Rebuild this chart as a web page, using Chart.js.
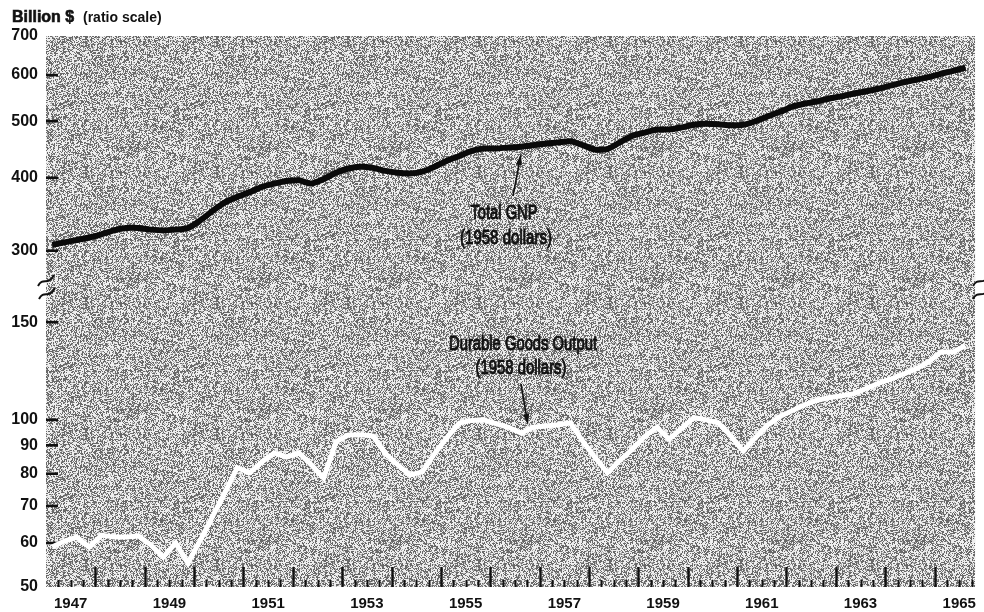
<!DOCTYPE html>
<html>
<head>
<meta charset="utf-8">
<script src="https://cdn.jsdelivr.net/npm/chart.js@4.4.1/dist/chart.umd.min.js"></script>
<style>
  html, body { margin: 0; padding: 0; background: #fff; }
  canvas { display: block; }
</style>
</head>
<body>
<canvas id="chart" width="984" height="612"></canvas>
<script>
// quarterly data, 1947 Q1 .. 1965 Q3 (billions of 1958 dollars)
const firstYear = 1947;
const gnp = [
  307, 310, 313, 316,   // 1947
  320, 325, 328, 328,   // 1948
  326, 325, 326, 328,   // 1949
  338, 351, 363, 371,   // 1950
  378, 386, 391, 395,   // 1951
  396, 391, 398, 408,   // 1952
  415, 418, 416, 411,   // 1953
  408, 407, 410, 418,   // 1954
  428, 436, 445, 449,   // 1955
  449, 451, 452, 455,   // 1956
  458, 460, 462, 455,   // 1957
  447, 448, 460, 472,   // 1958
  478, 484, 484, 488,   // 1959
  493, 495, 494, 492,   // 1960
  493, 500, 510, 519,   // 1961
  530, 536, 541, 547,   // 1962
  552, 558, 563, 569,   // 1963
  576, 583, 589, 595,   // 1964
  603, 610, 618         // 1965
];
const durables = [
  59, 60.5, 61.5, 59,       // 1947
  62, 61.5, 61.5, 61.8,     // 1948
  59.5, 56.6, 60, 55.2,     // 1949
  60.7, 67, 74, 82,         // 1950
  80.3, 84, 87.2, 85.7,     // 1951
  87.2, 83, 78.5, 91.3,     // 1952
  93.9, 94, 93.5, 87,       // 1953
  83, 79.6, 80.6, 87,       // 1954
  93, 98.7, 99.8, 100,      // 1955
  98.4, 97, 94.6, 97,       // 1956
  97.5, 98, 98.7, 91.5,     // 1957
  85.5, 80.3, 84.5, 88.5,   // 1958
  93.3, 97, 92.3, 96.5,     // 1959
  101, 100, 98.7, 93.5,     // 1960
  87.9, 93, 98, 101.5,      // 1961
  104, 106.5, 108.5, 109.7, // 1962
  110.5, 111.5, 114, 116.5, // 1963
  118.5, 121, 123.5, 127,   // 1964
  132.5, 132.5, 136         // 1965
];
const yearLabels = [1947, 1949, 1951, 1953, 1955, 1957, 1959, 1961, 1963, 1965];
const ticksHigh = [300, 400, 500, 600, 700];
const ticksLow = [50, 60, 70, 80, 90, 100, 150];

const asPoints = arr => arr.map((v, i) => ({ x: firstYear + (i + 0.5) / 4, y: v }));

// stipple texture for the plot area (deterministic hash, texture only)
function hash(x, y) {
  let n = Math.imul(x, 374761393) + Math.imul(y, 668265263);
  n = Math.imul(n ^ (n >>> 13), 1274126177);
  n = n ^ (n >>> 16);
  return (n >>> 0) / 4294967296;
}
const tex = document.createElement('canvas');
tex.width = 131; tex.height = 131;
(() => {
  const tctx = tex.getContext('2d');
  const img = tctx.createImageData(tex.width, tex.height);
  for (let y = 0; y < tex.height; y++) {
    for (let x = 0; x < tex.width; x++) {
      const p = hash(x + 7, y + 11);
      const g = p < 0.40 ? 105 : (p < 0.52 ? 172 : 238);
      const k = (y * tex.width + x) * 4;
      img.data[k] = img.data[k + 1] = img.data[k + 2] = g;
      img.data[k + 3] = 255;
    }
  }
  tctx.putImageData(img, 0, 0);
})();

// condensed label: squeeze a normal face to the wanted width
function narrowText(ctx, text, cx, cy, width) {
  ctx.save();
  ctx.font = '21px "Liberation Sans", Arial, sans-serif';
  const w = ctx.measureText(text).width;
  ctx.translate(cx, cy);
  ctx.scale(width / w, 1);
  ctx.textAlign = 'center';
  ctx.textBaseline = 'middle';
  ctx.lineWidth = 1;
  ctx.fillText(text, 0, 0);
  ctx.strokeText(text, 0, 0);
  ctx.restore();
}

function arrow(ctx, x1, y1, x2, y2) {
  const ang = Math.atan2(y2 - y1, x2 - x1);
  ctx.beginPath();
  ctx.moveTo(x1, y1);
  ctx.lineTo(x2 - 6 * Math.cos(ang), y2 - 6 * Math.sin(ang));
  ctx.lineWidth = 1.6;
  ctx.stroke();
  ctx.beginPath();
  ctx.moveTo(x2, y2);
  ctx.lineTo(x2 - 11 * Math.cos(ang) + 3 * Math.sin(ang), y2 - 11 * Math.sin(ang) - 3 * Math.cos(ang));
  ctx.lineTo(x2 - 11 * Math.cos(ang) - 3 * Math.sin(ang), y2 - 11 * Math.sin(ang) + 3 * Math.cos(ang));
  ctx.closePath();
  ctx.fill();
}

function squiggle(ctx, x, y) {
  ctx.beginPath();
  ctx.moveTo(x, y + 5);
  ctx.bezierCurveTo(x + 5, y - 5, x + 10, y + 6, x + 16, y - 6);
  ctx.stroke();
}

const decor = {
  id: 'decor',
  beforeDraw(chart) {
    const { ctx, chartArea: a } = chart;
    ctx.save();
    ctx.fillStyle = '#fff';
    ctx.fillRect(0, 0, chart.width, chart.height);
    ctx.fillStyle = ctx.createPattern(tex, 'repeat');
    ctx.fillRect(a.left, a.top, a.right - a.left, a.bottom - a.top);
    ctx.restore();
  },
  beforeDatasetsDraw(chart) {
    const { ctx, chartArea: a, scales } = chart;
    ctx.save();
    ctx.strokeStyle = '#111';
    // quarter ticks along the bottom
    for (let q = 1; q < 76; q++) {
      const v = firstYear + q / 4;
      if (v > scales.x.max) break;
      const x = Math.round(scales.x.getPixelForValue(v)) + 0.5;
      const big = q % 4 === 0;
      ctx.lineWidth = big ? 2.4 : 2;
      ctx.beginPath();
      ctx.moveTo(x, a.bottom);
      ctx.lineTo(x, a.bottom - (big ? 20 : 7));
      ctx.stroke();
    }
    // value ticks inside the left edge
    ctx.lineWidth = 2.6;
    ticksHigh.filter(v => v < 700).forEach(v => {
      const y = scales.yHi.getPixelForValue(v);
      ctx.beginPath(); ctx.moveTo(a.left, y); ctx.lineTo(a.left + 12, y); ctx.stroke();
    });
    ticksLow.filter(v => v > 50).forEach(v => {
      const y = scales.yLo.getPixelForValue(v);
      ctx.beginPath(); ctx.moveTo(a.left, y); ctx.lineTo(a.left + 12, y); ctx.stroke();
    });
    ctx.restore();
  },
  afterDraw(chart) {
    const { ctx, chartArea: a } = chart;
    ctx.save();
    ctx.fillStyle = '#111';
    ctx.strokeStyle = '#111';
    ctx.textBaseline = 'middle';
    ctx.textAlign = 'left';
    ctx.font = 'bold 16px "Liberation Sans", Arial, sans-serif';
    ctx.lineWidth = 0.6;
    ctx.fillText('Billion $', 12, 18);
    ctx.strokeText('Billion $', 12, 18);
    ctx.font = 'bold 14px "Liberation Sans", Arial, sans-serif';
    ctx.fillText('(ratio scale)', 83, 18);

    // scale break marks
    ctx.lineWidth = 2;
    squiggle(ctx, 38, 281);
    squiggle(ctx, 39, 294);
    squiggle(ctx, a.right - 2, 281);
    squiggle(ctx, a.right - 2, 294);

    // labels
    narrowText(ctx, 'Total GNP', 504, 213, 67);
    narrowText(ctx, '(1958 dollars)', 506, 238, 92);
    narrowText(ctx, 'Durable Goods Output', 523, 344, 148);
    narrowText(ctx, '(1958 dollars)', 521, 368, 91);
    arrow(ctx, 513, 196, 521, 154);
    arrow(ctx, 521, 384, 528, 425);
    ctx.restore();
  }
};

const fixedWidth = s => { s.width = 46; };

new Chart(document.getElementById('chart'), {
  type: 'line',
  data: {
    datasets: [
      {
        label: 'Total GNP (1958 dollars)',
        data: asPoints(gnp),
        yAxisID: 'yHi',
        borderColor: '#0a0a0a',
        borderWidth: 6,
        pointRadius: 0,
        tension: 0.2,
        borderJoinStyle: 'round',
        borderCapStyle: 'butt'
      },
      {
        label: 'Durable Goods Output (1958 dollars)',
        data: asPoints(durables),
        yAxisID: 'yLo',
        borderColor: '#ffffff',
        borderWidth: 5,
        pointRadius: 0,
        tension: 0,
        borderJoinStyle: 'miter',
        borderCapStyle: 'butt'
      }
    ]
  },
  options: {
    responsive: false,
    animation: false,
    events: [],
    layout: { padding: { top: 36, right: 4, left: 0, bottom: 0 } },
    plugins: { legend: { display: false }, tooltip: { enabled: false } },
    scales: {
      x: {
        type: 'linear',
        min: 1947,
        max: 1965.82,
        grid: { display: false, drawTicks: false },
        border: { display: false },
        afterBuildTicks: s => { s.ticks = yearLabels.map(y => ({ value: y + 0.5 })); },
        afterFit: s => { s.height = 25; },
        ticks: {
          autoSkip: false,
          maxRotation: 0,
          padding: 8,
          color: '#111',
          font: { family: '"Liberation Sans", Arial, sans-serif', size: 15, weight: 'bold' },
          callback: (v, i) => String(yearLabels[i])
        }
      },
      yLo: {
        type: 'logarithmic',
        position: 'left',
        stack: 'y',
        stackWeight: 302,
        min: 50,
        max: 175,
        grid: { display: false, drawTicks: false },
        border: { display: false },
        afterBuildTicks: s => { s.ticks = ticksLow.map(v => ({ value: v })); },
        afterFit: fixedWidth,
        ticks: {
          autoSkip: false,
          padding: 8,
          color: '#111',
          font: { family: '"Liberation Sans", Arial, sans-serif', size: 16, weight: 'bold' },
          callback: v => String(v)
        }
      },
      yHi: {
        type: 'logarithmic',
        position: 'left',
        stack: 'y',
        stackWeight: 249,
        min: 262,
        max: 700,
        grid: { display: false, drawTicks: false },
        border: { display: false },
        afterBuildTicks: s => { s.ticks = ticksHigh.map(v => ({ value: v })); },
        afterFit: fixedWidth,
        ticks: {
          autoSkip: false,
          padding: 8,
          color: '#111',
          font: { family: '"Liberation Sans", Arial, sans-serif', size: 16, weight: 'bold' },
          callback: v => String(v)
        }
      }
    }
  },
  plugins: [decor]
});
</script>
</body>
</html>
